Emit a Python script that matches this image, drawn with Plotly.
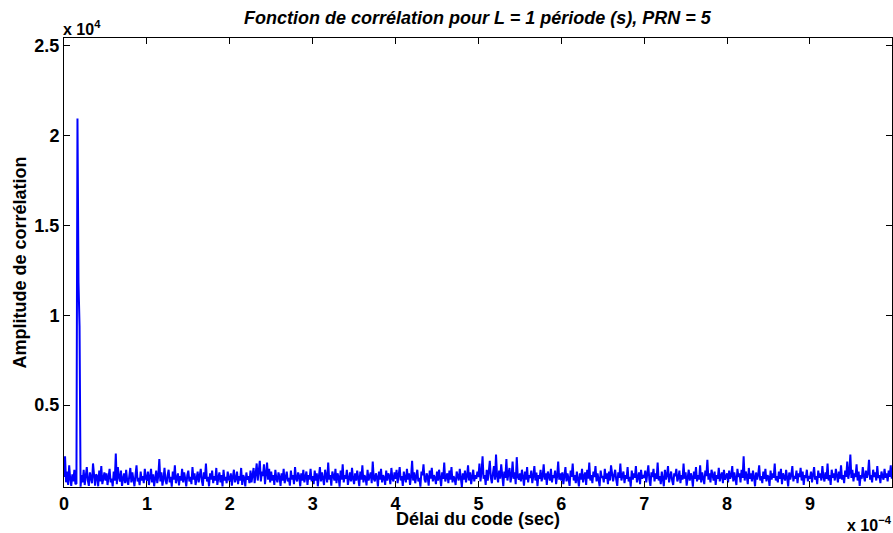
import numpy as np
import plotly.graph_objects as go

# Correlation amplitude, one segment per 1e-4 s of code delay (80 samples each)
seg0 = [1000, 2150, 700, 1300, 550, 1650, 900, 500, 1150, 750, 1400, 600, 650,
        20950, 11830, 9400, 460,
        1100, 700, 1400, 550, 1000, 1550, 800, 500, 1250, 950,
        650, 1750, 850, 520, 1150, 1050, 480, 1350, 750, 1600,
        600, 950, 1250, 800, 1200, 550, 1050, 1450, 700, 900,
        470, 1300, 800, 2300, 600, 1550, 1000, 750, 1350, 500,
        900, 1200, 650, 1400, 800, 560, 1050, 1500, 700, 1250,
        850, 480, 1100, 1650, 750, 950, 540, 1300, 800, 1050,
        650, 1450, 900]
seg1 = [800, 1300, 550, 1000, 1450, 700, 1150, 480, 950, 1350,
        650, 1050, 2000, 750, 1250, 520, 900, 1500, 800, 600,
        1100, 1400, 700, 1000, 460, 1300, 850, 1650, 650, 950,
        1200, 530, 1050, 800, 1450, 700, 1250, 900, 470, 1100,
        1350, 750, 1000, 600, 1550, 850, 1200, 550, 950, 1300,
        700, 1050, 1450, 800, 500, 1250, 900, 1750, 750, 1000,
        480, 1200, 850, 1350, 650, 1050, 800, 1500, 560, 950,
        1250, 700, 1100, 470, 1400, 800, 1000, 650, 1300, 900]
seg2 = [750, 1200, 520, 1000, 1400, 700, 900, 1300, 600, 1050,
        800, 1500, 560, 1100, 950, 470, 1250, 850, 1050, 650,
        1350, 700, 1100, 1500, 650, 1250, 1750, 800, 1400, 1900,
        750, 1300, 1050, 1700, 600, 1200, 1800, 850, 1450, 700,
        1300, 800, 1100, 550, 1400, 900, 700, 1250, 1000, 500,
        1200, 800, 1450, 650, 1050, 1300, 750, 950, 520, 1350,
        850, 1100, 600, 1550, 900, 750, 1250, 1050, 480, 1200,
        800, 1400, 700, 1000, 1300, 550, 1100, 850, 1450, 750]
seg3 = [1050, 600, 1350, 800, 1200, 480, 1000, 1550, 750, 1250,
        900, 550, 1400, 1050, 700, 1800, 850, 1100, 520, 1300,
        950, 800, 1450, 650, 1200, 1000, 460, 1350, 850, 1700,
        700, 1100, 900, 1400, 560, 1050, 1250, 750, 1500, 900,
        600, 1200, 800, 1350, 1000, 490, 1300, 850, 1650, 700,
        1100, 950, 530, 1400, 800, 1050, 1250, 650, 1850, 900,
        750, 1200, 1000, 470, 1300, 850, 1450, 700, 1100, 950,
        560, 1350, 800, 1200, 1050, 600, 1500, 900, 750, 1250]
seg4 = [900, 1400, 650, 1100, 1550, 800, 1050, 500, 1300, 950,
        700, 1450, 850, 1200, 560, 1000, 1900, 800, 1250, 650,
        1050, 1400, 750, 950, 460, 1300, 1100, 1700, 850, 700,
        1200, 1000, 520, 1350, 900, 1500, 750, 1100, 950, 600,
        1300, 800, 1400, 1050, 490, 1250, 900, 1800, 750, 1000,
        1200, 650, 1350, 850, 1550, 700, 1050, 900, 550, 1300,
        1100, 800, 1450, 950, 450, 1200, 850, 1350, 700, 1050,
        1650, 800, 1250, 600, 1000, 1400, 750, 1100, 900, 1300]
seg5 = [1000, 1750, 750, 1250, 2150, 900, 1100, 550, 1400, 800,
        1300, 1900, 950, 650, 1200, 1600, 850, 2250, 1050, 700,
        1350, 900, 1700, 1100, 480, 1300, 950, 2000, 800, 1200,
        1500, 700, 1050, 1850, 900, 1250, 600, 2100, 1000, 850,
        1200, 750, 1400, 1000, 520, 1300, 850, 1550, 700, 1100,
        950, 1350, 650, 1050, 1600, 800, 1250, 480, 1100, 900,
        1400, 750, 1050, 1700, 850, 1200, 550, 1300, 1000, 800,
        1450, 700, 1100, 950, 1350, 600, 1050, 1850, 850, 1200]
seg6 = [800, 1250, 600, 1050, 1550, 750, 1200, 900, 500, 1350,
        1000, 1750, 800, 1100, 650, 1300, 950, 470, 1200, 850,
        1450, 700, 1050, 1250, 550, 1400, 900, 1800, 800, 1100,
        650, 1300, 1000, 1600, 750, 1200, 850, 480, 1350, 950,
        1050, 700, 1450, 900, 1200, 600, 1300, 800, 1650, 1000,
        750, 1100, 1400, 850, 500, 1250, 950, 1750, 800, 1050,
        1300, 650, 1100, 900, 1550, 750, 1000, 460, 1350, 850,
        1200, 950, 1600, 700, 1050, 1250, 600, 1400, 900, 1100]
seg7 = [950, 1350, 700, 1100, 1650, 850, 500, 1250, 1000, 1450,
        750, 1200, 900, 1800, 800, 1050, 600, 1300, 950, 480,
        1400, 850, 1100, 1600, 700, 1000, 1300, 800, 550, 1200,
        1050, 1450, 750, 950, 1350, 650, 1100, 850, 1750, 900,
        1250, 510, 1050, 1400, 800, 1200, 1000, 460, 1300, 900,
        1550, 750, 1100, 850, 1650, 700, 1250, 950, 600, 1350,
        1050, 1950, 850, 1200, 700, 1400, 1000, 800, 1300, 550,
        1100, 900, 1500, 750, 1050, 1250, 650, 1400, 850, 1000]
seg8 = [1200, 700, 1350, 900, 1050, 1600, 750, 1250, 850, 550,
        1450, 1000, 1200, 700, 1400, 950, 2150, 800, 1300, 1050,
        600, 1500, 900, 1200, 750, 1350, 1000, 480, 1250, 850,
        1100, 1650, 800, 1050, 650, 1300, 900, 1450, 750, 1100,
        1000, 500, 1350, 850, 1200, 950, 1750, 800, 1050, 700,
        1300, 900, 1450, 600, 1200, 1000, 800, 1400, 950, 470,
        1250, 850, 1100, 1600, 750, 1050, 900, 1350, 650, 1200,
        1000, 1500, 800, 1300, 550, 1100, 950, 1400, 750, 1050]
seg9 = [900, 1300, 700, 1100, 1550, 850, 1050, 600, 1350, 950,
        1200, 800, 1600, 1000, 750, 1250, 900, 1750, 800, 1100,
        550, 1400, 950, 1200, 800, 1450, 1050, 700, 1300, 900,
        1650, 850, 1100, 650, 1350, 1000, 1850, 900, 1250, 2250,
        950, 1400, 750, 1200, 1000, 1700, 800, 1300, 500, 1100,
        900, 1550, 1050, 750, 1350, 950, 1200, 1950, 850, 1100,
        700, 1400, 1000, 1250, 800, 1600, 950, 1100, 650, 1300,
        1050, 850, 1450, 950, 1200, 750, 1350, 1000, 1650, 900]

total_duration = 1e-3  # seconds of code delay covered by the samples

x_tick_labels = ["0", "1", "2", "3", "4", "5", "6", "7", "8", "9"]
y_tick_labels = ["0.5", "1", "1.5", "2", "2.5"]

amplitude = np.array(seg0 + seg1 + seg2 + seg3 + seg4 + seg5 + seg6 + seg7 + seg8 + seg9, dtype=float)
delay = np.arange(len(amplitude)) * (total_duration / len(amplitude))

x_tick_vals = [float(t) * 1e-4 for t in x_tick_labels]
y_tick_vals = [float(t) * 1e4 for t in y_tick_labels]

FONT = "Liberation Sans, Arial, Helvetica, sans-serif"

fig = go.Figure()
fig.add_trace(go.Scatter(x=delay, y=amplitude, mode="lines",
                         line=dict(color="#0000FF", width=2),
                         hoverinfo="skip", showlegend=False))

W, H = 893, 533
ML, MR, MT, MB = 64, 1, 38, 46
ph = H - MT - MB
pw = W - ML - MR

def py(p):
    return (H - MB - p) / ph

axis_common = dict(showgrid=False, zeroline=False, showline=True, linecolor="black",
                   linewidth=1, mirror="ticks", ticks="inside", ticklen=6,
                   tickcolor="black", tickwidth=1,
                   tickfont=dict(family=FONT, size=18, color="black", weight="bold"))

fig.update_layout(
    width=W, height=H,
    margin=dict(l=ML, r=MR, t=MT, b=MB),
    paper_bgcolor="white", plot_bgcolor="white",
    xaxis=dict(range=[0, 9.99e-4], tickvals=x_tick_vals, ticktext=x_tick_labels, **axis_common),
    yaxis=dict(range=[440, 25430], tickvals=y_tick_vals, ticktext=y_tick_labels, **axis_common),
)

ann_font = dict(family=FONT, size=18, color="black", weight="bold")
exp_font = dict(family=FONT, size=16, color="black", weight="bold")
fig.add_annotation(text="<i>Fonction de corrélation pour L = 1 période (s), PRN = 5</i>",
                   xref="paper", yref="paper", x=0.5, y=py(18), xanchor="center", yanchor="middle",
                   showarrow=False, font=ann_font)
fig.add_annotation(text="Délai du code (sec)", xref="paper", yref="paper",
                   x=0.5, y=py(519), xanchor="center", yanchor="middle",
                   showarrow=False, font=ann_font)
fig.add_annotation(text="Amplitude de corrélation", xref="paper", yref="paper",
                   x=(19 - ML) / pw, y=0.5, xanchor="center", yanchor="middle",
                   textangle=-90, showarrow=False, font=ann_font)
fig.add_annotation(text="x 10<sup>4</sup>", xref="paper", yref="paper",
                   x=-3 / pw, y=py(40), xanchor="left", yanchor="bottom",
                   showarrow=False, font=exp_font)
fig.add_annotation(text="x 10<sup>−4</sup>", xref="paper", yref="paper",
                   x=1 + 2 / pw, y=py(536), xanchor="right", yanchor="bottom",
                   showarrow=False, font=exp_font)

fig.write_html("out.html", config={"displayModeBar": False},
               post_script="document.body.style.margin='0';")
